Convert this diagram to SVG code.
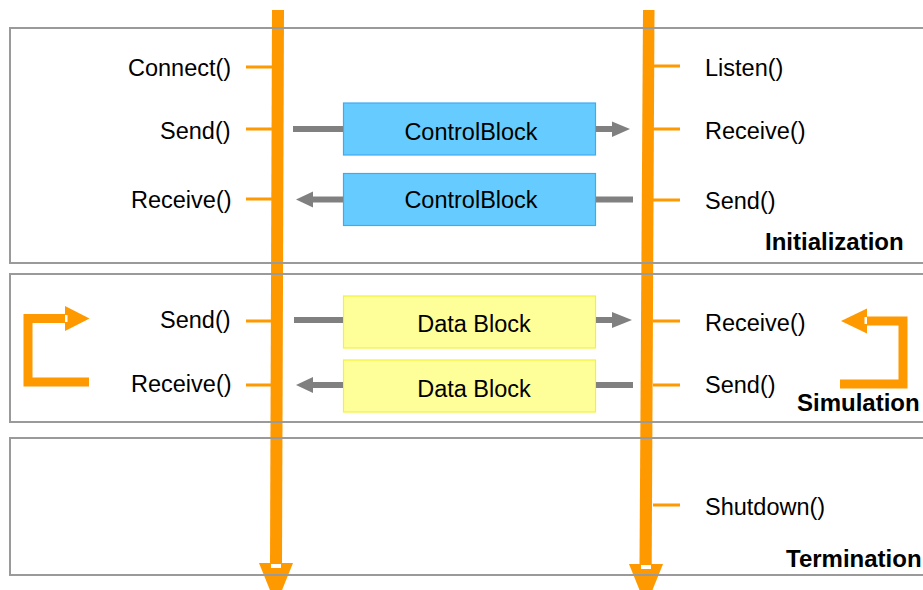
<svg xmlns="http://www.w3.org/2000/svg" width="923" height="590" viewBox="0 0 923 590">
  <style>
    .lbl { font-family: "Liberation Sans", Arial, sans-serif; font-size: 23.5px; fill: #000; }
    .phase { font-family: "Liberation Sans", Arial, sans-serif; font-size: 24px; font-weight: bold; fill: #000; }
    .blk { text-anchor: middle; }
    .panel { fill: none; stroke: #9a9a9a; stroke-width: 2; }
    .life { fill: #FF9900; }
    .tick { stroke: #FF9900; stroke-width: 3; fill: none; }
    .ctrl { fill: #66CCFF; stroke: #3FA9F5; stroke-width: 1.2; }
    .data { fill: #FFFF99; stroke: #F2F23C; stroke-width: 1.2; }
    .msg { stroke: #808080; stroke-width: 6; fill: none; }
    .msgHead { fill: #808080; }
    .loop { stroke: #FF9900; stroke-width: 9; fill: none; }
    .loopHead { fill: #FF9900; }
    .gap { fill: #fff; }
  </style>

  <!-- lifelines: sender (left) and receiver (right) -->
  <g id="lifeline-sender">
    <polygon class="life" points="272,10 284,10 282,564 270,564"/>
    <polygon class="life" points="259,563 293,563 276,605"/>
    <rect class="gap" x="271" y="564" width="10" height="4"/>
  </g>
  <g id="lifeline-receiver">
    <polygon class="life" points="643,10 654.5,10 651.7,564 639.5,564"/>
    <polygon class="life" points="629,564 663,564 646,606"/>
    <rect class="gap" x="641" y="565" width="10" height="4"/>
  </g>

  <!-- phase panels -->
  <g id="panel-init">
    <rect class="panel" x="10" y="28" width="925" height="235"/>
    <text class="phase" x="765" y="250">Initialization</text>
  </g>
  <g id="panel-sim">
    <rect class="panel" x="10" y="274" width="925" height="148"/>
    <text class="phase" x="797" y="411">Simulation</text>
  </g>
  <g id="panel-term">
    <rect class="panel" x="10" y="438" width="925" height="137"/>
    <text class="phase" x="786" y="567">Termination</text>
  </g>

  <!-- call ticks on the lifelines -->
  <g id="ticks">
    <path class="tick" d="M246,67 H273 M246,129 H273 M246,199 H273 M246,321 H273 M246,385 H273"/>
    <path class="tick" d="M653,66 H680 M653,129 H680 M653,200 H680 M653,321 H680 M653,385 H680 M653,505 H680"/>
  </g>

  <!-- sender calls -->
  <g id="sender-connect"><text class="lbl" x="128" y="76">Connect()</text></g>
  <g id="sender-send-ctrl"><text class="lbl" x="160" y="139">Send()</text></g>
  <g id="sender-receive-ctrl"><text class="lbl" x="131" y="208">Receive()</text></g>
  <g id="sender-send-data"><text class="lbl" x="160" y="328">Send()</text></g>
  <g id="sender-receive-data"><text class="lbl" x="131" y="392">Receive()</text></g>

  <!-- receiver calls -->
  <g id="receiver-listen"><text class="lbl" x="705" y="76">Listen()</text></g>
  <g id="receiver-receive-ctrl"><text class="lbl" x="705" y="139">Receive()</text></g>
  <g id="receiver-send-ctrl"><text class="lbl" x="705" y="209">Send()</text></g>
  <g id="receiver-receive-data"><text class="lbl" x="705" y="331">Receive()</text></g>
  <g id="receiver-send-data"><text class="lbl" x="705" y="393">Send()</text></g>
  <g id="receiver-shutdown"><text class="lbl" x="705" y="515">Shutdown()</text></g>

  <!-- message blocks -->
  <g id="ctrl-block-out">
    <rect class="ctrl" x="343.5" y="103" width="252" height="52"/>
    <text class="lbl blk" x="471" y="140">ControlBlock</text>
  </g>
  <g id="ctrl-block-in">
    <rect class="ctrl" x="343.5" y="173.5" width="252" height="52"/>
    <text class="lbl blk" x="471" y="208">ControlBlock</text>
  </g>
  <g id="data-block-out">
    <rect class="data" x="343.5" y="296" width="252" height="52"/>
    <text class="lbl blk" x="474" y="332">Data Block</text>
  </g>
  <g id="data-block-in">
    <rect class="data" x="343.5" y="360" width="252" height="52"/>
    <text class="lbl blk" x="474" y="397">Data Block</text>
  </g>

  <!-- message connectors -->
  <g id="connectors">
    <!-- control block: sender to receiver -->
    <path class="msg" d="M293,129 H343"/>
    <path class="msg" d="M596,129 H613"/>
    <polygon class="msgHead" points="612,121.5 630,129 612,137"/>
    <!-- control block: receiver to sender -->
    <path class="msg" d="M596,199.5 H633"/>
    <path class="msg" d="M312,199.5 H343"/>
    <polygon class="msgHead" points="313,191.5 296,199.5 313,207.5"/>
    <!-- data block: sender to receiver -->
    <path class="msg" d="M294,320 H343"/>
    <path class="msg" d="M596,320 H613"/>
    <polygon class="msgHead" points="612,312 632,320 612,328"/>
    <!-- data block: receiver to sender -->
    <path class="msg" d="M596,385 H633"/>
    <path class="msg" d="M312,385 H343"/>
    <polygon class="msgHead" points="313,377 296,385 313,393"/>

    <!-- simulation loops -->
    <path class="loop" d="M89,382 H28 V318.5 H66"/>
    <polygon class="loopHead" points="65,306 89.5,318.5 65,331"/>
    <rect class="gap" x="65" y="315" width="2.5" height="7"/>
    <path class="loop" d="M840,384 H903 V321 H866"/>
    <polygon class="loopHead" points="867,308.5 841,321 867,333.5"/>
    <rect class="gap" x="864.5" y="317" width="2.5" height="7"/>
  </g>
</svg>
